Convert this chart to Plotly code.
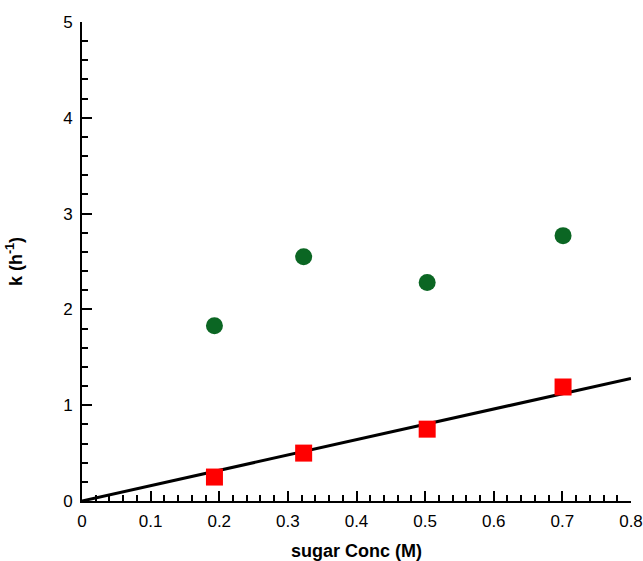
import plotly.graph_objects as go

conc = [0.193, 0.323, 0.503, 0.701]
k_green = [1.83, 2.55, 2.28, 2.77]
k_red = [0.25, 0.50, 0.75, 1.19]
fit_x = [0.0, 0.8]
fit_y = [0.0, 1.28]

x_ticks = [0, 0.1, 0.2, 0.3, 0.4, 0.5, 0.6, 0.7, 0.8]
x_labels = ["0", "0.1", "0.2", "0.3", "0.4", "0.5", "0.6", "0.7", "0.8"]
y_ticks = [0, 1, 2, 3, 4, 5]

fig = go.Figure()
fig.add_trace(go.Scatter(x=fit_x, y=fit_y, mode="lines",
                         line=dict(color="black", width=3), showlegend=False,
                         cliponaxis=False))
fig.add_trace(go.Scatter(x=conc, y=k_green, mode="markers",
                         marker=dict(symbol="circle", size=17, color="#0b6623"),
                         showlegend=False))
fig.add_trace(go.Scatter(x=conc, y=k_red, mode="markers",
                         marker=dict(symbol="square", size=17, color="#ff0000"),
                         showlegend=False))

FONT = "Liberation Sans, Arial"
axis_common = dict(
    showgrid=False, zeroline=False, showline=True, linecolor="black", linewidth=2,
    ticks="inside", ticklen=10, tickwidth=2, tickcolor="black", automargin=False,
    tickfont=dict(family=FONT, size=17, color="black"),
)

fig.update_xaxes(range=[0, 0.8], tickvals=x_ticks, ticktext=x_labels,
                 ticklabelstandoff=4,
                 minor=dict(ticks="inside", ticklen=6, tickwidth=2, tickcolor="black", dtick=0.02),
                 title=dict(text="<b>sugar Conc (M)</b>",
                            font=dict(family=FONT, size=18, color="black"),
                            standoff=16),
                 **axis_common)
fig.update_yaxes(range=[0, 5], tickvals=y_ticks, ticklabelstandoff=4,
                 minor=dict(ticks="inside", ticklen=6, tickwidth=2, tickcolor="black", dtick=0.2),
                 title=dict(text="<b>k (h<sup>-1</sup>)</b>",
                            font=dict(family=FONT, size=18, color="black"),
                            standoff=36),
                 **axis_common)

fig.update_layout(width=643, height=561, margin=dict(l=82, r=12, t=22, b=60),
                  plot_bgcolor="white", paper_bgcolor="white")
fig.write_html("out.html")
